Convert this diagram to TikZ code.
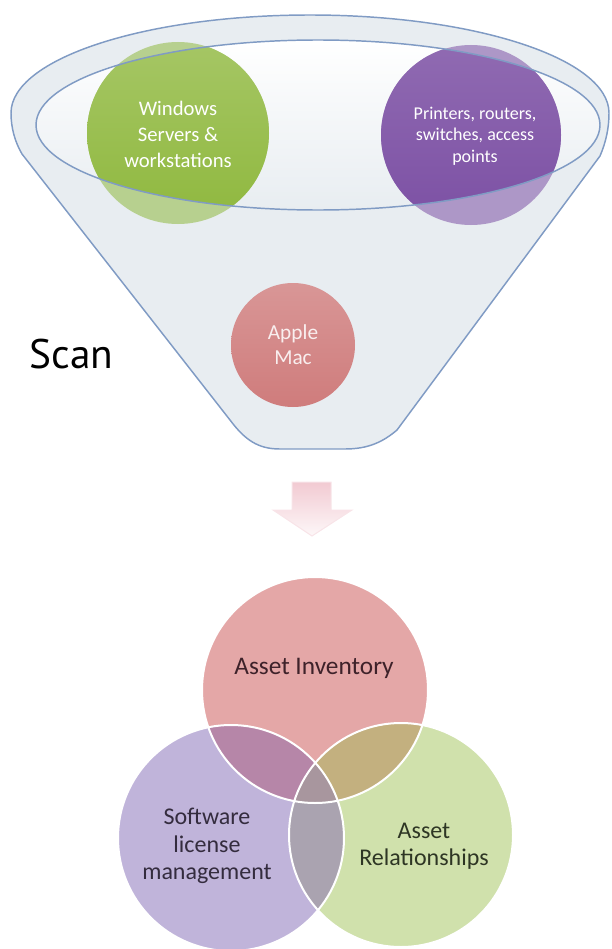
\documentclass[tikz,border=0pt]{standalone}
\usepackage{fontspec}
\setmainfont{Carlito}
\newfontfamily\scanfont{PT Sans}
\usepackage{tikz}
\definecolor{funnelgray}{RGB}{232,237,241}
\definecolor{funnelline}{RGB}{128,155,196}
\definecolor{wingreen}{RGB}{143,184,62}
\definecolor{netpurple}{RGB}{124,80,164}
\definecolor{macred}{RGB}{207,124,124}
\definecolor{invpink}{RGB}{228,167,167}
\definecolor{swlilac}{RGB}{192,180,218}
\definecolor{relgreen}{RGB}{208,225,172}
\definecolor{pinklilac}{RGB}{182,134,168}
\definecolor{pinkgreen}{RGB}{195,176,127}
\definecolor{lilacgreen}{RGB}{170,163,176}
\definecolor{allthree}{RGB}{168,150,158}
\definecolor{arrowpink}{RGB}{242,202,210}
\tikzset{every picture/.style={line width=0.75pt}}
\tikzset{
  balltext/.style={align=center, text=white, inner sep=0pt},
  venntext/.style={align=center, inner sep=0pt, font=\fontsize{18}{20.5}\selectfont},
}

\begin{document}
\begin{tikzpicture}[x=0.75pt,y=0.75pt,yscale=-1,xscale=1]
\useasboundingbox (0,0) rectangle (611,949);

%Funnel body
\path [fill=funnelgray] (11,113) arc[start angle=180, end angle=360, x radius=299, y radius=98] .. controls (609,128) and (606,142) .. (600,156) -- (397,430) .. controls (383,442) and (368,449) .. (345,449) -- (280,449) .. controls (258,449) and (245,440) .. (230,420) -- (22,154) .. controls (15,142) and (11,128) .. (11,113) -- cycle ;
%Funnel opening
\shade [top color=white, bottom color=funnelgray] (318,125) ellipse (282 and 85) ;
%Balls, faded below the rim
\fill [wingreen!55!funnelgray] (178,133) circle (91) ;
\fill [netpurple!55!funnelgray] (471,135) circle (90) ;
\begin{scope}
\clip (318,125) ellipse (282 and 85) ;
\shade [top color=wingreen!80!white, bottom color=wingreen] (178,133) circle (91) ;
\shade [top color=netpurple!85!white, bottom color=netpurple] (471,135) circle (90) ;
\end{scope}
\shade [top color=macred!80!white, bottom color=macred] (293,345) circle (62) ;
%Funnel outlines
\draw [color=funnelline, line width=1.1pt] (11,113) arc[start angle=180, end angle=360, x radius=299, y radius=98] .. controls (609,128) and (606,142) .. (600,156) -- (397,430) .. controls (383,442) and (368,449) .. (345,449) -- (280,449) .. controls (258,449) and (245,440) .. (230,420) -- (22,154) .. controls (15,142) and (11,128) .. (11,113) -- cycle ;
\draw [color=funnelline, line width=1.1pt] (318,125) ellipse (282 and 85) ;

\node [balltext, font=\fontsize{15.5}{19.5}\selectfont] (win) at (178,134) {Windows\\Servers \&\\workstations};
\node [balltext, font=\fontsize{13.5}{16}\selectfont] (net) at (475,136) {Printers, routers,\\switches, access\\points};
\node [balltext, text=white!88!macred, font=\fontsize{16}{19}\selectfont] (mac) at (293,345) {Apple\\Mac};
\node [anchor=base west, inner sep=0pt, font=\scanfont\fontsize{31}{36}\selectfont] (scan) at (29,368) {Scan};

%Down arrow
\draw [color=arrowpink!50!white, top color=arrowpink, bottom color=arrowpink!15!white] (292,482) -- (331,482) -- (331,510) -- (352,510) -- (312,536) -- (273,510) -- (292,510) -- cycle ;

%Venn circles
\fill [invpink] (315,690) circle (113) ;
\fill [swlilac] (231,838) circle (113) ;
\fill [relgreen] (401,835) circle (112) ;
\begin{scope}
\clip (231,838) circle (113) ;
\fill [lilacgreen] (401,835) circle (112) ;
\end{scope}
\begin{scope}
\clip (315,690) circle (113) ;
\fill [pinklilac] (231,838) circle (113) ;
\fill [pinkgreen] (401,835) circle (112) ;
\clip (231,838) circle (113) ;
\fill [allthree] (401,835) circle (112) ;
\end{scope}
\draw [white, line width=1.5pt] (315,690) circle (113) ;
\draw [white, line width=1.5pt] (231,838) circle (113) ;
\draw [white, line width=1.5pt] (401,835) circle (112) ;

\node [venntext, text={rgb,255:red,62;green,34;blue,42}, font=\fontsize{19}{22}\selectfont] (inv) at (314,668) {Asset Inventory};
\node [venntext, text={rgb,255:red,52;green,44;blue,62}] (sw) at (207,846) {Software\\license\\management};
\node [venntext, text={rgb,255:red,46;green,54;blue,36}] (rel) at (424,846) {Asset\\Relationships};
\end{tikzpicture}
\end{document}
